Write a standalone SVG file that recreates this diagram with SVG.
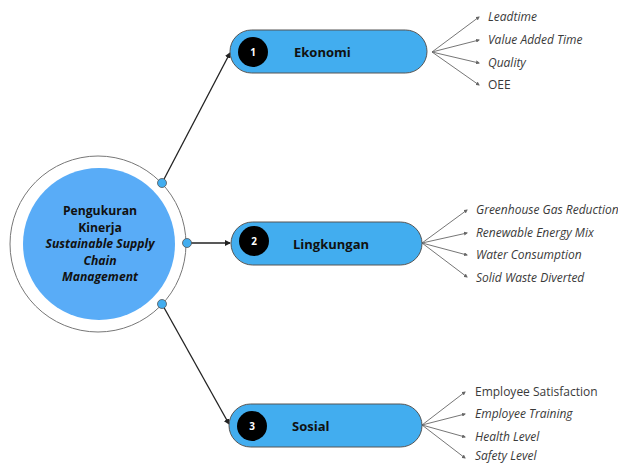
<svg xmlns="http://www.w3.org/2000/svg" width="618" height="463" viewBox="0 0 618 463">
<style>
.pill{fill:#42ADEF;stroke:#555;stroke-width:1}
.num{fill:#000}
.numt{fill:#fff;font-family:"Open Sans","DejaVu Sans",sans-serif;font-weight:bold;font-size:10px;text-anchor:middle}
.lbl{fill:#111;font-family:"Open Sans","DejaVu Sans",sans-serif;font-weight:bold;font-size:13px}
.ctr{fill:#111;font-family:"Open Sans","DejaVu Sans",sans-serif;font-weight:bold;font-size:12.2px;text-anchor:middle}
.leaf{fill:#3a3a3a;font-family:"Open Sans","DejaVu Sans",sans-serif;font-size:12px}
.it{font-style:italic}
.main{stroke:#222;stroke-width:1.3;fill:none;marker-end:url(#ah)}
.fan{stroke:#666;stroke-width:0.9;fill:none;marker-end:url(#ah2)}
.dot{fill:#42ADEF;stroke:#555;stroke-width:0.8}
</style>
<defs>
<marker id="ah" markerWidth="6" markerHeight="6" refX="5" refY="3" orient="auto" markerUnits="userSpaceOnUse">
<path d="M0,0 L6,3 L0,6 z" fill="#222"/>
</marker>
<marker id="ah2" markerWidth="4" markerHeight="4" refX="3" refY="2" orient="auto" markerUnits="userSpaceOnUse">
<path d="M0,0 L4,2 L0,4 z" fill="#666"/>
</marker>
</defs>
<rect width="618" height="463" fill="#fff"/>
<g id="connectors">
<line class="main" x1="162" y1="183" x2="230" y2="53"/>
<line class="main" x1="187" y1="243" x2="230" y2="243"/>
<line class="main" x1="162" y1="304" x2="229" y2="424"/>
<line class="fan" x1="432" y1="52" x2="479" y2="17"/>
<line class="fan" x1="432" y1="52" x2="479" y2="40"/>
<line class="fan" x1="432" y1="52" x2="479" y2="63"/>
<line class="fan" x1="432" y1="52" x2="479" y2="85"/>
<line class="fan" x1="422" y1="243" x2="467" y2="210"/>
<line class="fan" x1="422" y1="243" x2="467" y2="233"/>
<line class="fan" x1="422" y1="243" x2="467" y2="255"/>
<line class="fan" x1="422" y1="243" x2="467" y2="277"/>
<line class="fan" x1="422" y1="425" x2="465" y2="392"/>
<line class="fan" x1="422" y1="425" x2="465" y2="414"/>
<line class="fan" x1="422" y1="425" x2="465" y2="437"/>
<line class="fan" x1="422" y1="425" x2="465" y2="458"/>
</g>
<g id="center">
<circle cx="98" cy="244" r="88" fill="#fff" stroke="#777" stroke-width="1"/>
<circle cx="99" cy="244" r="76" fill="#59ACF7"/>
<text class="ctr" x="100" y="215">Pengukuran</text>
<text class="ctr" x="100" y="231.5">Kinerja</text>
<text class="ctr it" x="100" y="248">Sustainable Supply</text>
<text class="ctr it" x="100" y="264.5">Chain</text>
<text class="ctr it" x="100" y="281">Management</text>
<circle class="dot" cx="162" cy="183" r="4.5"/>
<circle class="dot" cx="187" cy="243" r="4.5"/>
<circle class="dot" cx="162" cy="304" r="4.5"/>
</g>
<g id="node-ekonomi">
<rect class="pill" x="230" y="30" width="197" height="43" rx="21.5"/>
<circle class="num" cx="253" cy="52" r="15"/>
<text class="numt" x="253" y="56">1</text>
<text class="lbl" x="294" y="57">Ekonomi</text>
</g>
<g id="node-lingkungan">
<rect class="pill" x="231" y="222" width="191" height="43" rx="21.5"/>
<circle class="num" cx="254" cy="241" r="15"/>
<text class="numt" x="254" y="245">2</text>
<text class="lbl" x="293" y="249">Lingkungan</text>
</g>
<g id="node-sosial">
<rect class="pill" x="229" y="404" width="193" height="43" rx="21.5"/>
<circle class="num" cx="252" cy="426" r="15"/>
<text class="numt" x="252" y="430">3</text>
<text class="lbl" x="292" y="431">Sosial</text>
</g>
<g id="leaves-ekonomi">
<text class="leaf it" x="488" y="21">Leadtime</text>
<text class="leaf it" x="488" y="44">Value Added Time</text>
<text class="leaf it" x="488" y="67">Quality</text>
<text class="leaf" x="488" y="89">OEE</text>
</g>
<g id="leaves-lingkungan">
<text class="leaf it" x="476" y="214">Greenhouse Gas Reduction</text>
<text class="leaf it" x="476" y="237">Renewable Energy Mix</text>
<text class="leaf it" x="476" y="259">Water Consumption</text>
<text class="leaf it" x="476" y="282">Solid Waste Diverted</text>
</g>
<g id="leaves-sosial">
<text class="leaf" x="475" y="396">Employee Satisfaction</text>
<text class="leaf it" x="475" y="418">Employee Training</text>
<text class="leaf it" x="475" y="441">Health Level</text>
<text class="leaf it" x="475" y="460">Safety Level</text>
</g>
</svg>
